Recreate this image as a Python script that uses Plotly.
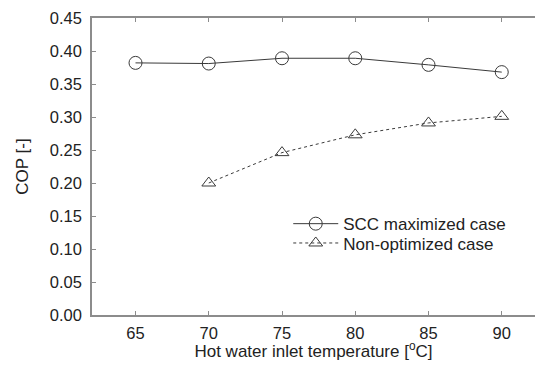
import plotly.graph_objects as go

temps_scc = [65, 70, 75, 80, 85, 90]
cop_scc = [0.382, 0.381, 0.389, 0.389, 0.379, 0.368]
temps_non = [70, 75, 80, 85, 90]
cop_non = [0.200, 0.246, 0.273, 0.291, 0.301]
x_ticks = [65, 70, 75, 80, 85, 90]
y_ticks = [0.00, 0.05, 0.10, 0.15, 0.20, 0.25, 0.30, 0.35, 0.40, 0.45]

font = "Liberation Sans, Arial, sans-serif"
ink = "#3a3a3a"
txt = "#222222"

fig = go.Figure()
fig.add_trace(go.Scatter(
    x=temps_scc, y=cop_scc, mode="lines+markers", name="SCC maximized case",
    line=dict(color=ink, width=1),
    marker=dict(symbol="circle-open", size=13, color=ink, line=dict(width=1)),
    legend="legend",
))
fig.add_trace(go.Scatter(
    x=temps_non, y=cop_non, mode="lines+markers", name="Non-optimized case",
    line=dict(color=ink, width=1, dash="dot"),
    marker=dict(symbol="triangle-up-open", size=12, color=ink, line=dict(width=1)),
    legend="legend2",
))

axis_common = dict(
    showline=True, linecolor="#8c8c8c", linewidth=1.5,
    ticks="inside", ticklen=4, tickcolor="#8c8c8c", tickwidth=1,
    showgrid=False, zeroline=False, automargin=False,
    ticklabeloverflow="allow",
    tickfont=dict(family=font, size=16.5, color=txt),
)
fig.update_xaxes(
    range=[62.03, 92.27], tickvals=x_ticks, ticktext=[str(v) for v in x_ticks],
    mirror="ticks", ticklabelstandoff=2,
    title=dict(text="Hot water inlet temperature [<sup>o</sup>C]",
               font=dict(family=font, size=17, color=txt), standoff=23),
    **axis_common,
)
fig.update_yaxes(
    range=[0, 0.45], tickvals=y_ticks, ticktext=[f"{v:.2f}" for v in y_ticks],
    mirror=False, ticklabelstandoff=5,
    title=dict(text="COP [-]", font=dict(family=font, size=17, color=txt), standoff=17),
    **axis_common,
)
leg_common = dict(xanchor="left", yanchor="middle", bgcolor="rgba(0,0,0,0)",
                  font=dict(family=font, size=17, color=txt), itemwidth=45)
fig.update_layout(
    width=527, height=353,
    margin=dict(l=83.5, r=0, t=10, b=46),
    paper_bgcolor="white", plot_bgcolor="white",
    showlegend=True,
    legend=dict(x=0.443, y=0.306, **leg_common),
    legend2=dict(x=0.443, y=0.241, **leg_common),
)
fig.write_html("out.html")
